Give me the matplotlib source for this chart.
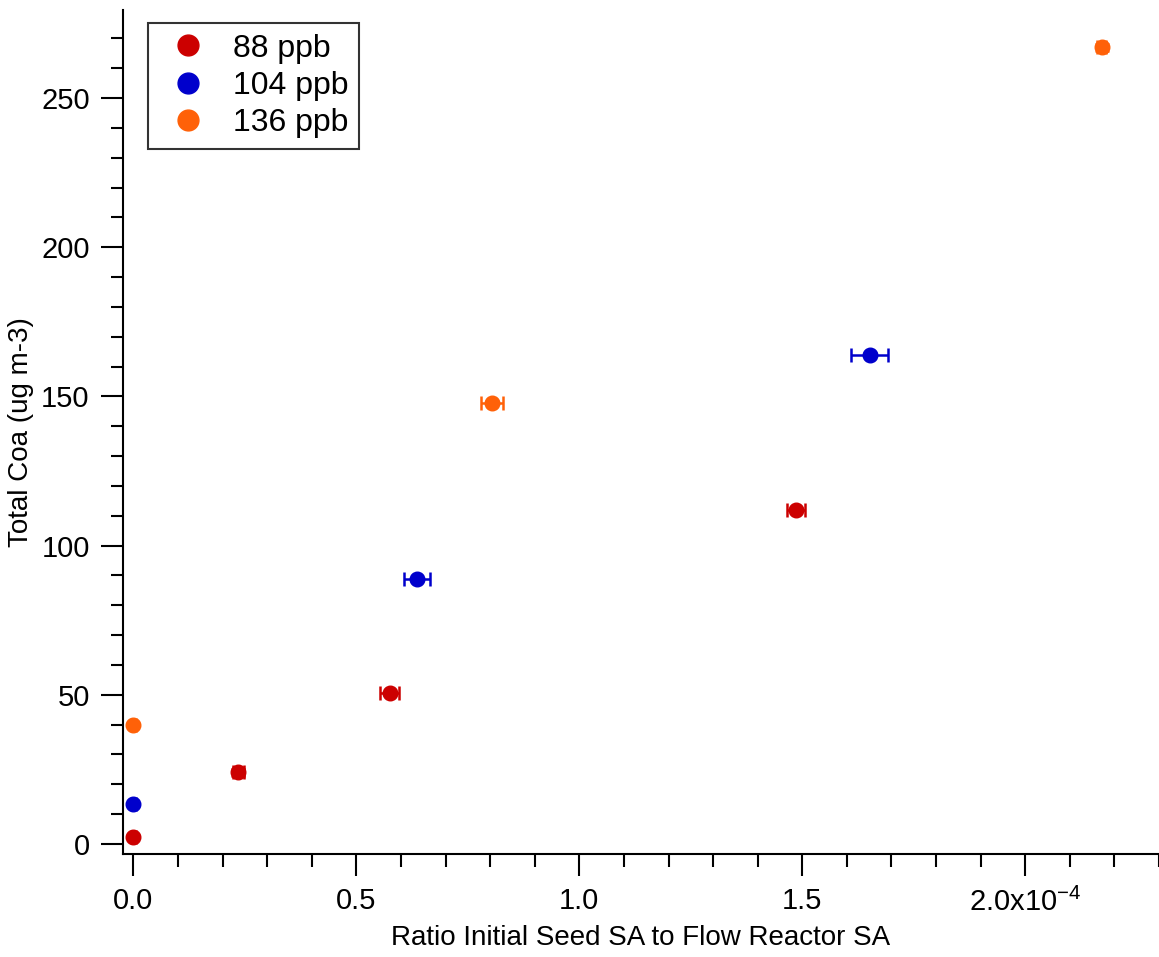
import matplotlib.pyplot as plt
from matplotlib.lines import Line2D
from matplotlib.ticker import MultipleLocator, FixedLocator

plt.rcParams['font.family'] = ['Liberation Sans', 'DejaVu Sans']
plt.rcParams['mathtext.fontset'] = 'custom'
plt.rcParams['mathtext.rm'] = 'Liberation Sans'

# ratio in units of 1e-4, Coa in ug m-3
labels = ['88 ppb', '104 ppb', '136 ppb']
colors = ['#CC0000', '#0000CC', '#FF6108']

ratio_88 = [0.0, 0.235, 0.575, 1.485]
coa_88 = [2.5, 24.0, 50.5, 112.0]
xerr_88 = [0.006, 0.012, 0.021, 0.020]
yerr_88 = [0.5, 1.2, 0.5, 0.5]

ratio_104 = [0.0, 0.636, 1.651]
coa_104 = [13.4, 88.8, 164.0]
xerr_104 = [0.006, 0.030, 0.042]
yerr_104 = [0.5, 0.5, 0.5]

ratio_136 = [0.0, 0.804, 2.172]
coa_136 = [39.9, 147.9, 267.0]
xerr_136 = [0.006, 0.025, 0.010]
yerr_136 = [0.5, 0.5, 1.2]

series = [
    (ratio_88, coa_88, xerr_88, yerr_88),
    (ratio_104, coa_104, xerr_104, yerr_104),
    (ratio_136, coa_136, xerr_136, yerr_136),
]

fig = plt.figure(figsize=(11.59, 9.57), dpi=100)
ax = fig.add_axes([123 / 1159, 103 / 957, 1 - 123 / 1159, 844 / 957])

for (x, y, xe, ye), color in zip(series, colors):
    ax.errorbar(x, y, xerr=xe, yerr=ye, fmt='o', color=color, ms=10.5,
                elinewidth=1.8, capsize=5, capthick=1.8, zorder=3)

ax.set_xlim(-0.0235, 2.30)
ax.set_ylim(-3.35, 279.5)

ax.spines['top'].set_visible(False)
ax.spines['right'].set_visible(False)
ax.spines['left'].set_linewidth(1.5)
ax.spines['bottom'].set_linewidth(1.5)

ax.xaxis.set_major_locator(FixedLocator([0.0, 0.5, 1.0, 1.5, 2.0]))
ax.set_xticklabels(['0.0', '0.5', '1.0', '1.5', r'2.0x10$^{-4}$'])
ax.xaxis.set_minor_locator(MultipleLocator(0.1))
ax.yaxis.set_major_locator(MultipleLocator(50))
ax.yaxis.set_minor_locator(MultipleLocator(10))

ax.tick_params(which='major', direction='out', length=16, width=1.5,
               labelsize=21, pad=8)
ax.tick_params(which='minor', direction='out', length=9, width=1.5)

ax.set_xlabel('Ratio Initial Seed SA to Flow Reactor SA', fontsize=20, labelpad=6)
ax.set_ylabel('Total Coa (ug m-3)', fontsize=20, labelpad=5)

handles = [Line2D([], [], ls='none', marker='o', ms=15, color=c) for c in colors]
leg = ax.legend(handles, labels, loc='upper left', bbox_to_anchor=(0.0241, 0.9846),
                fontsize=23, frameon=True, fancybox=False, edgecolor='black',
                handletextpad=0.49, borderpad=0.33, labelspacing=0.23,
                handlelength=1.84, borderaxespad=0.0)
leg.get_frame().set_linewidth(1.5)

fig.savefig('out.png', dpi=100, facecolor='white')
